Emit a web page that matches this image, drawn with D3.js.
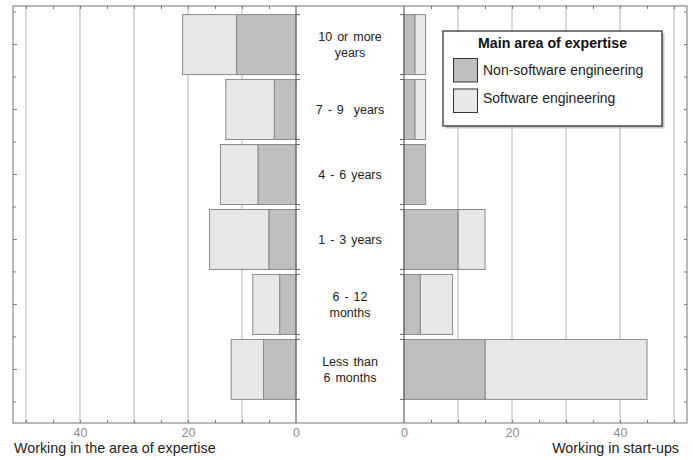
<!DOCTYPE html>
<html>
<head>
<meta charset="utf-8">
<script src="https://cdn.jsdelivr.net/npm/d3@7"></script>
<style>
  body { margin: 0; background: #fff; }
  svg text { font-family: "Liberation Sans", Arial, Helvetica, sans-serif; }
</style>
</head>
<body>
<div id="chart"></div>
<script>
// Experience groups, top to bottom
const categories = ["10 or more years", "7 - 9  years", "4 - 6 years", "1 - 3 years", "6 - 12 months", "Less than 6 months"];
const categoryLines = [["10 or more", "years"], ["7 - 9  years"], ["4 - 6 years"], ["1 - 3 years"], ["6 - 12", "months"], ["Less than", "6 months"]];

// Left panel: working in the area of expertise
const areaNonSoftware = [11, 4, 7, 5, 3, 6];
const areaSoftware = [10, 9, 7, 11, 5, 6];

// Right panel: working in start-ups
const startupNonSoftware = [2, 2, 4, 10, 3, 15];
const startupSoftware = [2, 2, 0, 5, 6, 30];

const tickLabels = [0, 20, 40];
const minorTicks = [5, 10, 15, 20, 25, 30, 35, 40, 45, 50];
const gridValues = [10, 20, 30, 40, 50];

const seriesNames = ["Non-software engineering", "Software engineering"];
const colors = ["#bfbfbf", "#e8e8e8"];

const width = 693, height = 460;
const frame = { left: 13, right: 687, top: 6, bottom: 423 };
const leftZero = 296, rightZero = 404;
const xMax = 52.4;

const svg = d3.select("#chart").append("svg")
  .attr("width", width)
  .attr("height", height);

// Scales
const xLeft = d3.scaleLinear().domain([0, xMax]).range([leftZero, frame.left]);
const xRight = d3.scaleLinear().domain([0, xMax]).range([rightZero, frame.right]);
const y = d3.scaleBand()
  .domain(categories)
  .range([12, 402])
  .paddingInner(0.077)
  .paddingOuter(0.04);

// Gridlines
[xLeft, xRight].forEach((x) => {
  svg.append("g").selectAll("line")
    .data(gridValues)
    .join("line")
    .attr("x1", (d) => x(d)).attr("x2", (d) => x(d))
    .attr("y1", frame.top).attr("y2", frame.bottom)
    .attr("stroke", "#b4b4b4")
    .attr("stroke-width", 1);
});

// Bars
function drawBars(x, first, second) {
  const rows = categories.map((c, i) => ({ c, a: first[i], b: second[i] }));
  const g = svg.append("g");
  // software (outer) segment
  g.selectAll(".outer")
    .data(rows.filter((d) => d.b > 0))
    .join("rect")
    .attr("x", (d) => Math.min(x(d.a), x(d.a + d.b)))
    .attr("width", (d) => Math.abs(x(d.a + d.b) - x(d.a)))
    .attr("y", (d) => y(d.c))
    .attr("height", y.bandwidth())
    .attr("fill", colors[1])
    .attr("stroke", "#8a8a8a")
    .attr("stroke-width", 1);
  // non-software (inner) segment
  g.selectAll(".inner")
    .data(rows)
    .join("rect")
    .attr("x", (d) => Math.min(x(0), x(d.a)))
    .attr("width", (d) => Math.abs(x(d.a) - x(0)))
    .attr("y", (d) => y(d.c))
    .attr("height", y.bandwidth())
    .attr("fill", colors[0])
    .attr("stroke", "#8a8a8a")
    .attr("stroke-width", 1);
}
drawBars(xLeft, areaNonSoftware, areaSoftware);
drawBars(xRight, startupNonSoftware, startupSoftware);

// Frame
svg.append("rect")
  .attr("x", frame.left).attr("y", frame.top)
  .attr("width", frame.right - frame.left)
  .attr("height", frame.bottom - frame.top)
  .attr("fill", "none")
  .attr("stroke", "#8a8a8a")
  .attr("stroke-width", 1.2);

// Minor ticks along top and bottom
[xLeft, xRight].forEach((x) => {
  svg.append("g")
    .attr("transform", `translate(0,${frame.bottom})`)
    .call(d3.axisTop(x).tickValues(minorTicks).tickSize(3).tickFormat(""))
    .call((g) => g.select(".domain").remove())
    .selectAll("line").attr("stroke", "#777");
  svg.append("g")
    .attr("transform", `translate(0,${frame.top})`)
    .call(d3.axisBottom(x).tickValues(minorTicks).tickSize(3).tickFormat(""))
    .call((g) => g.select(".domain").remove())
    .selectAll("line").attr("stroke", "#777");
});

// Tick labels
[xLeft, xRight].forEach((x) => {
  svg.append("g")
    .attr("transform", `translate(0,${frame.bottom})`)
    .call(d3.axisBottom(x).tickValues(tickLabels).tickSize(0).tickPadding(5))
    .call((g) => g.select(".domain").remove())
    .selectAll("text")
    .style("font-size", "12.5px")
    .attr("fill", "#8c8c8c");
});

// Row ticks on frame sides and zero lines
const halfSteps = [];
categories.forEach((c) => {
  halfSteps.push(y(c) - (y.step() - y.bandwidth()) / 2);
  halfSteps.push(y(c) + y.bandwidth() / 2);
});
halfSteps.push(y(categories[categories.length - 1]) + y.step() - (y.step() - y.bandwidth()) / 2);
const rowTicks = halfSteps.filter((v) => v > frame.top + 4 && v < frame.bottom - 4);

svg.append("g").selectAll("line")
  .data(rowTicks)
  .join("line")
  .attr("x1", frame.left).attr("x2", (d, i) => frame.left + (i % 2 ? 4 : 3))
  .attr("y1", (d) => d).attr("y2", (d) => d)
  .attr("stroke", "#777");
svg.append("g").selectAll("line")
  .data(rowTicks)
  .join("line")
  .attr("x1", frame.right).attr("x2", frame.right - 3)
  .attr("y1", (d) => d).attr("y2", (d) => d)
  .attr("stroke", "#777");

// Zero lines
const bandEdges = categories.flatMap((c) => [y(c), y(c) + y.bandwidth()]);
[[leftZero, 4], [rightZero, -4]].forEach(([x0, dir]) => {
  svg.append("line")
    .attr("x1", x0).attr("x2", x0)
    .attr("y1", frame.top).attr("y2", frame.bottom)
    .attr("stroke", "#666")
    .attr("stroke-width", 1.2);
  svg.append("g").selectAll("line")
    .data(bandEdges)
    .join("line")
    .attr("x1", x0).attr("x2", x0 + dir)
    .attr("y1", (d) => d).attr("y2", (d) => d)
    .attr("stroke", "#666");
});

// Category labels
const labels = svg.append("g")
  .attr("text-anchor", "middle")
  .style("font-size", "12.5px")
  .style("word-spacing", "1.5px")
  .attr("fill", "#222");
categories.forEach((c, i) => {
  const lines = categoryLines[i];
  const cy = y(c) + y.bandwidth() / 2;
  lines.forEach((line, j) => {
    labels.append("text")
      .attr("x", (leftZero + rightZero) / 2)
      .attr("y", cy + (j - (lines.length - 1) / 2) * 16.5)
      .attr("dy", "0.35em")
      .style("white-space", "pre")
      .text(line);
  });
});

// Axis titles
svg.append("text")
  .attr("x", 14).attr("y", 453)
  .style("font-size", "14.3px")
  .attr("fill", "#222")
  .text("Working in the area of expertise");
svg.append("text")
  .attr("x", 679).attr("y", 453)
  .attr("text-anchor", "end")
  .style("font-size", "14.3px")
  .attr("fill", "#222")
  .text("Working in start-ups");

// Legend
const legend = svg.append("g");
legend.append("rect")
  .attr("x", 445.5).attr("y", 33.5)
  .attr("width", 219).attr("height", 95)
  .attr("fill", "#999")
  .attr("opacity", 0.55);
legend.append("rect")
  .attr("x", 443).attr("y", 31)
  .attr("width", 219).attr("height", 95)
  .attr("fill", "#fff")
  .attr("stroke", "#222")
  .attr("stroke-width", 1.2);
legend.append("text")
  .attr("x", 552.5).attr("y", 47.7)
  .attr("text-anchor", "middle")
  .style("font-size", "14.2px")
  .style("font-weight", "bold")
  .attr("fill", "#111")
  .text("Main area of expertise");
seriesNames.forEach((name, i) => {
  legend.append("rect")
    .attr("x", 453.5).attr("y", 58.5 + i * 30.5)
    .attr("width", 24).attr("height", 23.5)
    .attr("fill", colors[i])
    .attr("stroke", "#333")
    .attr("stroke-width", 1);
  legend.append("text")
    .attr("x", 483).attr("y", 70.5 + i * 27.5)
    .attr("dy", "0.35em")
    .style("font-size", "14px")
    .attr("fill", "#222")
    .text(name);
});
</script>
</body>
</html>
